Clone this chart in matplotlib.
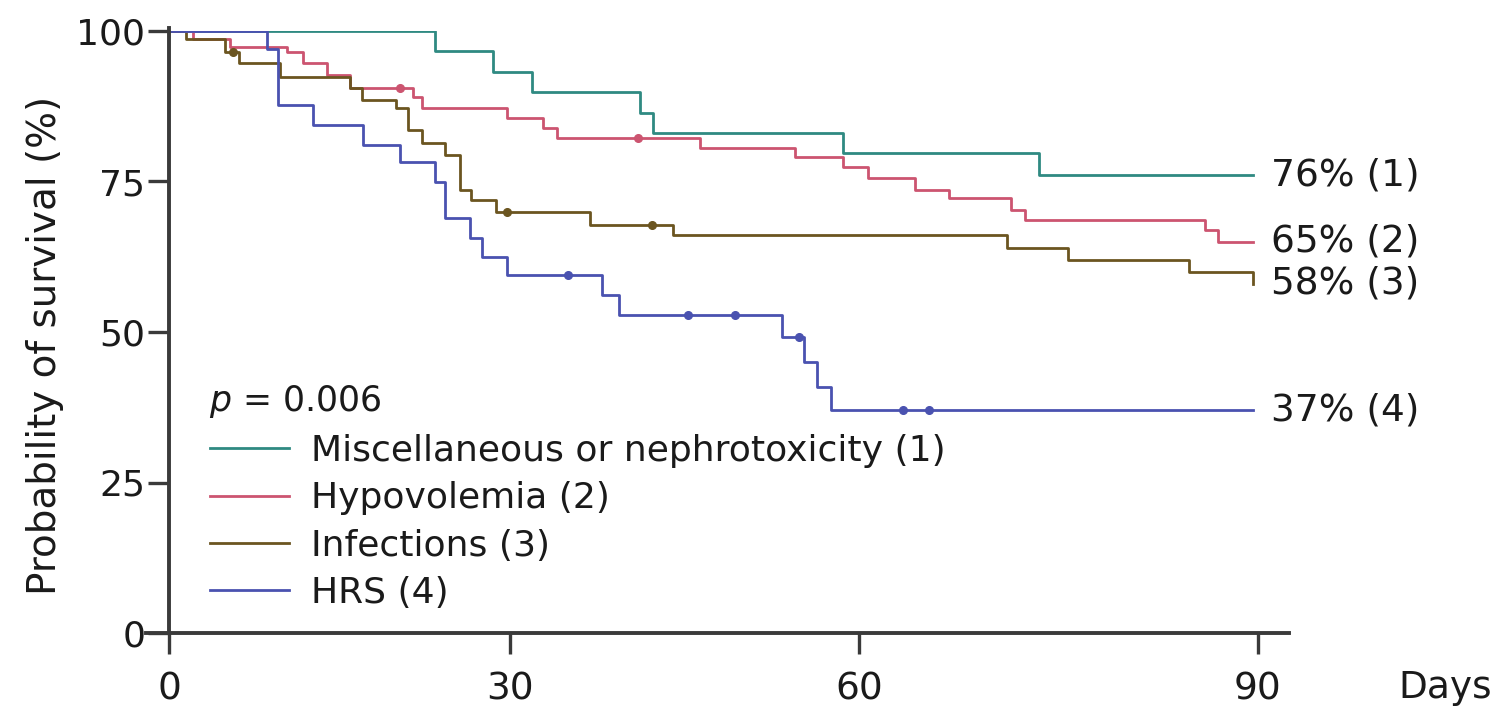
import numpy as np
import matplotlib
matplotlib.use("Agg")
import matplotlib.pyplot as plt
from matplotlib.lines import Line2D

plt.rcParams['font.family'] = ['DejaVu Sans']

# Kaplan-Meier steps: time (days) and survival (%) after each event
t_misc = [0, 23.4, 28.5, 31.9, 41.2, 42.3, 58.6, 73.5, 89.6]
s_misc = [100, 96.6, 93.2, 89.9, 86.4, 83.1, 79.7, 76, 76]

t_hypo = [0, 2.1, 5.4, 10.4, 11.8, 13.9, 15.9, 21.5, 22.3, 29.7, 32.8, 34.0,
          46.3, 54.5, 58.6, 60.7, 64.2, 66.8, 71.4, 72.5, 86.0, 87.0, 89.6]
s_hypo = [100, 98.6, 97.3, 96.5, 94.7, 92.7, 90.5, 89.0, 87.2, 85.5, 83.9, 82.2,
          80.6, 79.1, 77.4, 75.6, 73.6, 72.3, 70.3, 68.6, 66.9, 65, 65]

t_inf = [0, 1.5, 4.9, 6.2, 9.8, 15.9, 17.0, 20.0, 21.0, 22.3, 24.3, 25.6, 26.6,
         28.8, 36.9, 44.0, 71.1, 75.7, 84.8, 89.6]
s_inf = [100, 98.6, 96.5, 94.7, 92.4, 90.5, 88.5, 87.2, 83.6, 81.4, 79.4, 73.6, 71.9,
         69.9, 67.8, 66.1, 64.0, 62.0, 60.0, 58]

t_hrs = [0, 8.6, 9.6, 12.7, 17.1, 20.3, 23.4, 24.3, 26.5, 27.5, 29.7, 37.9, 39.4,
         53.4, 55.3, 56.4, 57.6, 89.6]
s_hrs = [100, 97.0, 87.7, 84.4, 81.1, 78.2, 74.9, 68.9, 65.6, 62.5, 59.5, 56.1, 52.8,
         49.2, 45.0, 40.9, 37, 37]

# censored observations (time, survival)
cens_hypo = ([20.3, 41.0], [90.5, 82.2])
cens_inf = ([5.6, 29.7, 42.2], [96.5, 69.9, 67.8])
cens_hrs = ([35.0, 45.3, 49.3, 54.8, 63.3, 65.3], [59.5, 52.8, 52.8, 49.2, 37, 37])

labels = ["Miscellaneous or nephrotoxicity (1)", "Hypovolemia (2)",
          "Infections (3)", "HRS (4)"]
end_labels = ["76% (1)", "65% (2)", "58% (3)", "37% (4)"]
colors = ["#2f8a82", "#cc5470", "#6b5520", "#4a52b0"]

# day axis of the figure is drawn slightly uneven between ticks
day_knots = [-10, 0, 30, 60, 90, 100]
pos_knots = [55.3, 169, 510, 859, 1258, 1391]


def fwd(x):
    return np.interp(x, day_knots, pos_knots)


def inv(p):
    return np.interp(p, pos_knots, day_knots)


W, H = 1506, 708
fig = plt.figure(figsize=(W / 100, H / 100), dpi=100)
x0, x1 = -2, 92.3
px0, px1 = fwd(x0), fwd(x1)
ax = fig.add_axes([px0 / W, (H - 633) / H, (px1 - px0) / W, (633 - 31) / H])
ax.set_xscale('function', functions=(fwd, inv))

txt = '#1a1a1a'
series = [(t_misc, s_misc, None), (t_hypo, s_hypo, cens_hypo),
          (t_inf, s_inf, cens_inf), (t_hrs, s_hrs, cens_hrs)]
for (t, s, c), col, lab, end in zip(series, colors, labels, end_labels):
    ax.step(t, s, where='post', color=col, lw=2.0, label=lab)
    if c is not None:
        ax.plot(c[0], c[1], 'o', color=col, ms=5.5, mec=col)
    ax.text(91.0, s[-1], end, fontsize=27, va='center', ha='left', color=txt)

ax.set_xlim(x0, x1)
ax.set_ylim(0, 100)
ax.set_xticks([0, 30, 60, 90])
ax.set_yticks([0, 25, 50, 75, 100])
for side in ['top', 'right']:
    ax.spines[side].set_visible(False)
ax.spines['left'].set_position(('data', 0))
ax.spines['left'].set_bounds(0, 100.5)
for side in ['left', 'bottom']:
    ax.spines[side].set_linewidth(2.8)
    ax.spines[side].set_color('#3a3a3a')
ax.tick_params(axis='both', direction='out', length=15, width=2.4,
               color='#3a3a3a', labelcolor=txt)
ax.tick_params(axis='y', pad=2, labelsize=26)
ax.tick_params(axis='x', pad=13, labelsize=27)

fig.text(1398 / W, (H - 688) / H, "Days", fontsize=27, color=txt,
         ha='left', va='center')

fig.text(45 / W, (H - 345) / H, "Probability of survival (%)", rotation=90,
         fontsize=28, ha='center', va='center', color=txt)

ax.text(0.055, 0.385, "$p$ = 0.006", transform=ax.transAxes, fontsize=25,
        ha='left', va='center', color=txt)

handles = [Line2D([], [], color=c, lw=2.0) for c in colors]
ax.legend(handles, labels, loc='upper left', bbox_to_anchor=(210 / W, 1 - 434 / H),
          bbox_transform=fig.transFigure, frameon=False, fontsize=26,
          handlelength=2.2, handletextpad=0.6, labelspacing=0.37,
          borderpad=0, borderaxespad=0, labelcolor=txt)

fig.savefig("out.png", dpi=100)
